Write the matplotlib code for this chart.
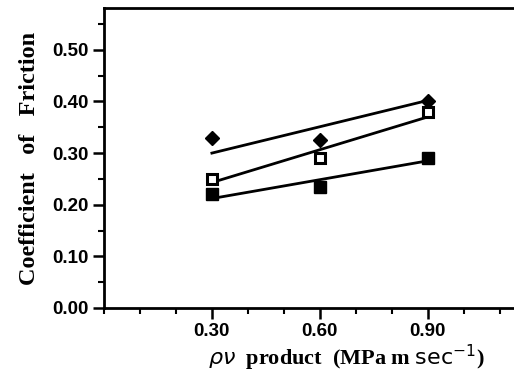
import matplotlib
matplotlib.use("Agg")
import matplotlib.pyplot as plt
from matplotlib.ticker import MultipleLocator, FixedLocator

plt.rcParams["mathtext.fontset"] = "dejavusans"

# measured points
pv = [0.30, 0.60, 0.90]
mu_diamond = [0.330, 0.325, 0.400]
mu_open_sq = [0.250, 0.290, 0.380]
mu_fill_sq = [0.220, 0.235, 0.290]

# fitted lines (end points)
fit_x = [0.30, 0.90]
fit_diamond = [0.300, 0.402]
fit_open_sq = [0.243, 0.370]
fit_fill_sq = [0.212, 0.285]

xticks = [0.30, 0.60, 0.90]
yticks = [0.00, 0.10, 0.20, 0.30, 0.40, 0.50]

fig = plt.figure(figsize=(5.14, 3.73), dpi=100)
ax = fig.add_axes([104 / 514, 65 / 373, 1 - 104 / 514, 300 / 373])

ax.plot(fit_x, fit_diamond, color="black", lw=2.0)
ax.plot(fit_x, fit_open_sq, color="black", lw=2.0)
ax.plot(fit_x, fit_fill_sq, color="black", lw=2.0)

ax.plot(pv, mu_diamond, ls="none", marker="D", ms=7.5, color="black")
ax.plot(pv, mu_open_sq, ls="none", marker="s", ms=7, mfc="white",
        mec="black", mew=2.2)
ax.plot(pv, mu_fill_sq, ls="none", marker="s", ms=8, color="black")

ax.set_xlim(0, 1.14)
ax.set_ylim(0, 0.581)

tick_font = dict(family="Liberation Sans", fontweight="bold", fontsize=13.5)
ax.xaxis.set_major_locator(FixedLocator(xticks))
ax.xaxis.set_minor_locator(MultipleLocator(0.1))
ax.yaxis.set_major_locator(FixedLocator(yticks))
ax.yaxis.set_minor_locator(MultipleLocator(0.05))
ax.set_xticklabels(["%.2f" % t for t in xticks], **tick_font)
ax.set_yticklabels(["%.2f" % t for t in yticks], **tick_font)

ax.tick_params(which="major", direction="out", length=8, width=1.8, pad=3)
ax.tick_params(which="minor", direction="out", length=4, width=1.5)
ax.tick_params(axis="x", which="major", pad=3)

for s in ["left", "bottom", "top"]:
    ax.spines[s].set_linewidth(2.0)
ax.spines["right"].set_visible(False)

ax.set_ylabel("Coefficient   of   Friction", family="Liberation Serif",
              fontweight="bold", fontsize=17.5)
ax.yaxis.set_label_coords(-0.155, 0.50)
ax.set_xlabel(r"$\rho\nu$  product  (MPa m $\mathsf{sec}^{-1}$)",
              family="Liberation Serif", fontweight="bold", fontsize=16)
ax.xaxis.set_label_coords(0.59, -0.115)

fig.savefig("out.png", dpi=100)
